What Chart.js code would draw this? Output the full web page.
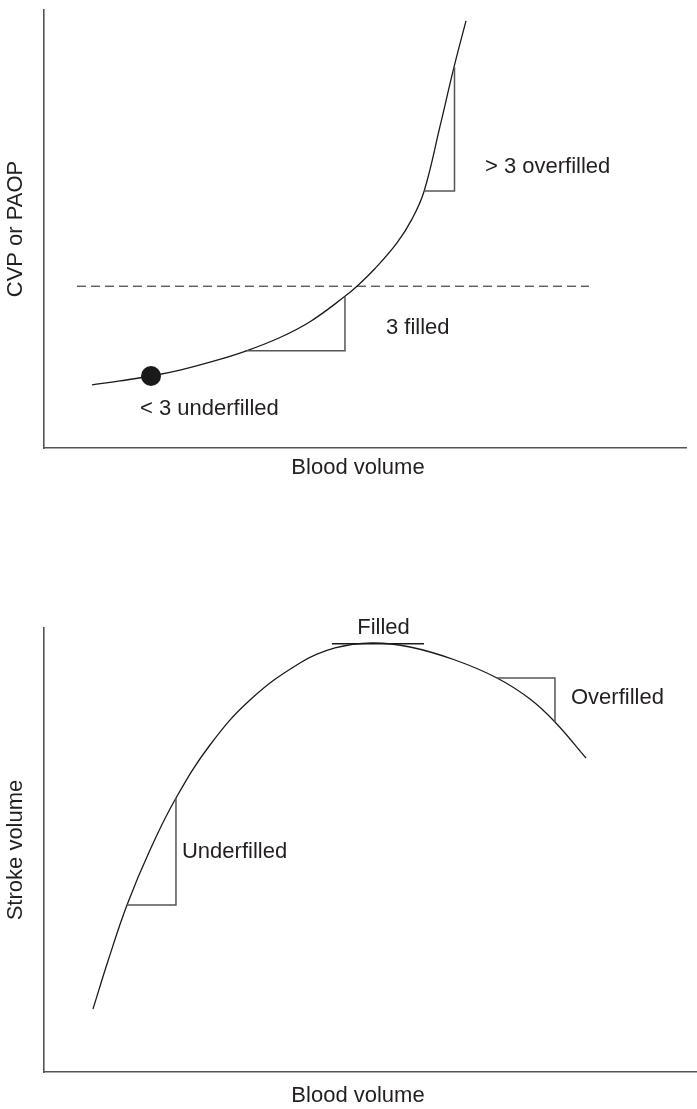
<!DOCTYPE html>
<html>
<head>
<meta charset="utf-8">
<script src="https://cdn.jsdelivr.net/npm/chart.js@4.4.1/dist/chart.umd.min.js"></script>
<style>
  html, body { margin: 0; padding: 0; background: #ffffff; }
  body { width: 697px; height: 1109px; position: relative; overflow: hidden; }
  canvas { position: absolute; left: 0; }
  #top { top: 0; }
  #bottom { top: 500px; }
</style>
</head>
<body>
<canvas id="top" width="697" height="500"></canvas>
<canvas id="bottom" width="697" height="609"></canvas>
<script>
// ---------- Data: top panel (pressure vs blood volume) ----------
const cvpVolume   = [7.48, 11.84, 16.67, 21.18, 25.86, 31.31, 36.76, 41.43, 46.73, 48.75, 51.56, 54.98, 57.32, 59.19, 61.68, 63.86, 65.73];
const cvpPressure = [14.41, 15.32, 16.44, 17.79, 19.59, 22.07, 25.23, 28.83, 34.46, 36.94, 40.99, 46.85, 52.25, 58.56, 73.42, 86.94, 97.52];
const dotVolume   = [16.67];
const dotPressure = [16.44];
const thresholdVolume   = [5.14, 84.89];
const thresholdPressure = [36.94, 36.94];
const filledTriVolume     = [31.31, 46.88, 46.88];
const filledTriPressure   = [22.18, 22.18, 34.46];
const overTriVolume       = [59.19, 63.94, 63.94];
const overTriPressure     = [58.67, 58.67, 86.94];
const topLabels   = ['> 3 overfilled', '3 filled', '< 3 underfilled'];
const topLabelX   = [68.69, 53.27, 14.95];
const topLabelY   = [64.19, 27.48, 9.01];

// ---------- Data: bottom panel (stroke volume vs blood volume) ----------
const svVolume = [7.50, 9.80, 12.71, 16.23, 20.21, 25.42, 31.55, 39.20, 44.56, 50.23, 56.05, 62.94, 69.37, 74.43, 78.25, 83.00];
const svStroke = [14.19, 25.00, 37.61, 50.00, 61.71, 73.65, 83.78, 92.12, 95.50, 96.62, 95.72, 92.79, 88.74, 84.01, 78.83, 70.72];
const peakLineVolume = [44.10, 58.19];
const peakLineStroke = [96.45, 96.45];
const underTriVolume = [12.71, 20.21, 20.21];
const underTriStroke = [37.61, 37.61, 61.71];
const overTri2Volume = [69.37, 78.25, 78.25];
const overTri2Stroke = [88.74, 88.74, 78.83];
const bottomLabels = ['Filled', 'Overfilled', 'Underfilled'];
const bottomLabelX = [51.99, 80.70, 21.13];
const bottomLabelY = [100.0, 84.23, 49.55];
const bottomLabelAlign = ['center', 'left', 'left'];

const xTitle = 'Blood volume';
const yTitleTop = 'CVP or PAOP';
const yTitleBottom = 'Stroke volume';

// ---------- Helpers ----------
const FONT = '22px "Liberation Sans", Arial, Helvetica, sans-serif';
const TEXT = '#231f20';
const CURVE = '#1a1a1a';
const AXIS = '#555555';

function pts(xs, ys) { return xs.map((v, i) => ({ x: v, y: ys[i] })); }

function lineSet(xs, ys, color, width, extra) {
  return Object.assign({
    data: pts(xs, ys), showLine: true, pointRadius: 0, borderColor: color,
    borderWidth: width, tension: 0, fill: false, clip: false
  }, extra || {});
}

const textPlugin = {
  id: 'textPlugin',
  afterDraw(chart, args, o) {
    const { ctx, chartArea, scales: { x, y } } = chart;
    ctx.save();
    ctx.font = FONT;
    ctx.fillStyle = TEXT;
    ctx.textBaseline = 'middle';
    o.labels.forEach((t, i) => {
      ctx.textAlign = o.align[i];
      ctx.fillText(t, x.getPixelForValue(o.lx[i]), y.getPixelForValue(o.ly[i]));
    });
    // x-axis title
    ctx.textAlign = 'center';
    ctx.fillText(o.xTitle, chartArea.left + o.xTitleShift, chartArea.bottom + o.xTitleGap);
    // y-axis title
    ctx.translate(o.yTitleX, (chartArea.top + chartArea.bottom) / 2);
    ctx.rotate(-Math.PI / 2);
    ctx.fillText(o.yTitle, 0, 0);
    ctx.restore();
  }
};

function scalesCfg() {
  const s = {
    type: 'linear', min: 0, max: 100,
    ticks: { display: false },
    grid: { display: false, drawTicks: false },
    border: { display: true, color: AXIS, width: 1.6 }
  };
  return { x: Object.assign({ position: 'bottom' }, JSON.parse(JSON.stringify(s))),
           y: Object.assign({ position: 'left' }, JSON.parse(JSON.stringify(s))) };
}

function baseOptions(padding, textOpts) {
  return {
    responsive: false, animation: false, devicePixelRatio: 1,
    layout: { padding: padding },
    scales: scalesCfg(),
    plugins: { legend: { display: false }, tooltip: { enabled: false }, textPlugin: textOpts }
  };
}

// ---------- Top chart ----------
new Chart(document.getElementById('top'), {
  type: 'scatter',
  data: {
    datasets: [
      lineSet(thresholdVolume, thresholdPressure, CURVE, 1, { borderDash: [9, 5] }),
      lineSet(filledTriVolume, filledTriPressure, AXIS, 1.5),
      lineSet(overTriVolume, overTriPressure, AXIS, 1.5),
      lineSet(cvpVolume, cvpPressure, CURVE, 1.3, { tension: 0.4 }),
      { data: pts(dotVolume, dotPressure), pointRadius: 10, pointBackgroundColor: CURVE,
        pointBorderColor: CURVE, pointBorderWidth: 0, showLine: false, clip: false }
    ]
  },
  options: baseOptions({ left: 44, top: 4, right: 11, bottom: 52 }, {
    labels: topLabels, lx: topLabelX, ly: topLabelY, align: ['left', 'left', 'left'],
    xTitle: xTitle, xTitleShift: 314, xTitleGap: 20,
    yTitle: yTitleTop, yTitleX: 16
  }),
  plugins: [textPlugin]
});

// ---------- Bottom chart ----------
new Chart(document.getElementById('bottom'), {
  type: 'scatter',
  data: {
    datasets: [
      lineSet(peakLineVolume, peakLineStroke, CURVE, 1.3),
      lineSet(underTriVolume, underTriStroke, AXIS, 1.5),
      lineSet(overTri2Volume, overTri2Stroke, AXIS, 1.5),
      lineSet(svVolume, svStroke, CURVE, 1.3, { tension: 0.4 })
    ]
  },
  options: baseOptions({ left: 44, top: 128, right: 0, bottom: 37 }, {
    labels: bottomLabels, lx: bottomLabelX, ly: bottomLabelY, align: bottomLabelAlign,
    xTitle: xTitle, xTitleShift: 314, xTitleGap: 24,
    yTitle: yTitleBottom, yTitleX: 16
  }),
  plugins: [textPlugin]
});
</script>
</body>
</html>
